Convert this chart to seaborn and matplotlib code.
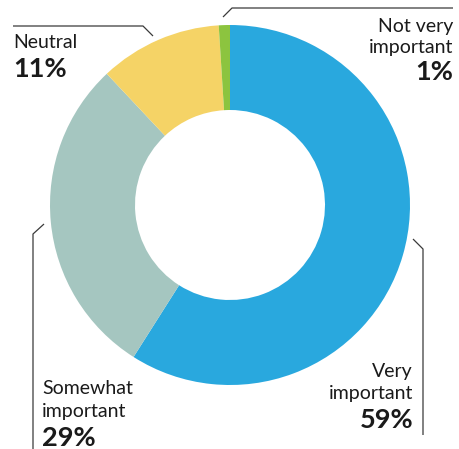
import matplotlib
matplotlib.use("Agg")
import matplotlib.pyplot as plt
import seaborn as sns

sns.set_theme(style="white")
plt.rcParams["font.family"] = ["Lato", "DejaVu Sans"]

# Survey shares, clockwise from 12 o'clock
categories = ["Very important", "Somewhat important", "Neutral", "Not very important"]
shares = [59, 29, 11, 1]
label_lines = [["Very", "important"], ["Somewhat", "important"], ["Neutral"], ["Not very", "important"]]
colors = sns.color_palette(["#29A8DE", "#A5C6C0", "#F5D366", "#8CC43F"])

W, H = 459, 449
fig = plt.figure(figsize=(W / 100, H / 100), dpi=100)
ax = fig.add_axes([0, 0, 1, 1])

cx, cy, R = 230, H - 205, 180
ax.pie(shares, colors=colors, startangle=90, counterclock=False,
       center=(cx, cy), radius=R, frame=True,
       wedgeprops=dict(width=85, linewidth=0))
ax.set_xlim(0, W)
ax.set_ylim(0, H)
ax.set_aspect("equal")
ax.axis("off")

def py(y):
    return H - y

line_kw = dict(color="#3a3a3a", lw=0.9, solid_capstyle="butt")

# leader lines (pixel-space paths)
leaders = [
    [(413, 239), (423, 249), (423, 435)],   # Very important
    [(44, 224), (33, 234), (33, 449)],      # Somewhat important
    [(153, 36), (143, 26), (13, 26)],       # Neutral
    [(223, 17), (232, 8), (453, 8)],        # Not very important
]
for path in leaders:
    xs = [p[0] for p in path]
    ys = [py(p[1]) for p in path]
    ax.plot(xs, ys, **line_kw)

# label anchors: x, alignment, baselines of text lines, baseline of percent
anchors = [
    (413, "right", [377, 399], 428),
    (42, "left", [394, 417], 446),
    (13, "left", [48], 77),
    (453, "right", [32, 53], 80),
]
txt_color = "#1a1a1a"
for lines, share, (x, ha, bases, pbase) in zip(label_lines, shares, anchors):
    for t, b in zip(lines, bases):
        ax.text(x, py(b), t, ha=ha, va="baseline", fontsize=14, color=txt_color)
    ax.text(x, py(pbase), f"{share}%", ha=ha, va="baseline", fontsize=19.5,
            fontweight="bold", color=txt_color)

fig.savefig("out.png", dpi=100)
